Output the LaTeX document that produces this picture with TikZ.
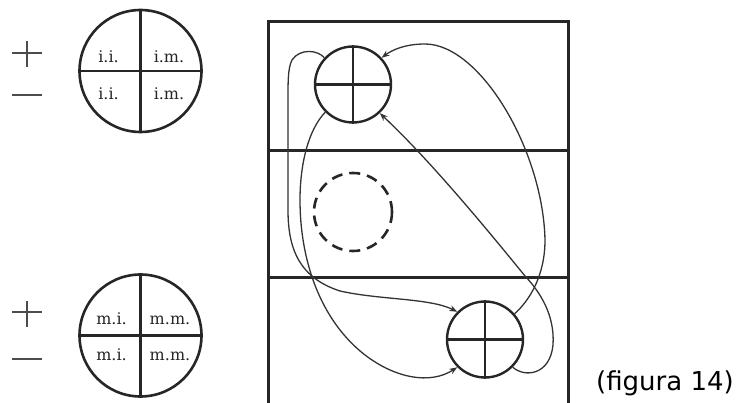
\documentclass[tikz,border=0pt]{standalone}
\usepackage{fontspec}
\usetikzlibrary{arrows.meta}
\newfontfamily\quadfont{DejaVu Serif}
\newfontfamily\capfont{DejaVu Sans}
\tikzset{
  bigcirc/.style={circle, draw=black!85, line width=2.6pt, minimum size=122pt, inner sep=0pt},
  smallcirc/.style={circle, draw=black!85, line width=2.4pt, minimum size=76pt, inner sep=0pt},
  dashcirc/.style={circle, draw=black!85, line width=2.6pt, minimum size=78pt, inner sep=0pt, dash pattern=on 11pt off 7pt},
  quad/.style={line width=2.2pt, draw=black!85},
  qtext/.style={font=\quadfont\fontsize{16}{16}\selectfont, anchor=base, inner sep=0pt, text=black!85},
  sign/.style={line width=1.8pt, draw=black!70},
  boxline/.style={line width=3pt, draw=black!85, line join=miter},
  flow/.style={line width=1.3pt, draw=black!80, -{Stealth[length=8pt,width=6pt]}},
}
\begin{document}
\begin{tikzpicture}[x=1pt,y=-1pt]
\useasboundingbox (0,0) rectangle (739,403);

% left legend circles
\node[bigcirc] (ic) at (140.5,71) {};
\draw[quad] (ic.north) -- (ic.south);
\draw[quad] (ic.west) -- (ic.east);
\node[qtext] (ii1) at (108.5,63) {i.i.};
\node[qtext] (im1) at (169,63) {i.m.};
\node[qtext] (ii2) at (108.5,100) {i.i.};
\node[qtext] (im2) at (169,100) {i.m.};

\node[bigcirc] (mc) at (140.5,335.5) {};
\draw[quad] (mc.north) -- (mc.south);
\draw[quad] (mc.west) -- (mc.east);
\node[qtext] (mi1) at (111.5,324) {m.i.};
\node[qtext] (mm1) at (170,324) {m.m.};
\node[qtext] (mi2) at (111.5,360) {m.i.};
\node[qtext] (mm2) at (170,360) {m.m.};

% plus / minus signs
\draw[sign] (12,53) -- (42,53);
\draw[sign] (27,41) -- (27,67);
\draw[sign] (12,95) -- (42,95);
\draw[sign] (12,312) -- (42,312);
\draw[sign] (27,301) -- (27,327);
\draw[sign] (12,359) -- (42,359);

% field box
\draw[boxline] (268,412) -- (268,22) -- (568,22) -- (568,412);
\draw[boxline] (268,151) -- (568,151);
\draw[boxline] (268,278) -- (568,278);

% circles in the field
\node[smallcirc] (tc) at (353,84.5) {};
\draw[quad] (tc.north) -- (tc.south);
\draw[quad] (tc.west) -- (tc.east);
\node[dashcirc] (dc) at (353,212) {};
\node[smallcirc] (bc) at (485,339.5) {};
\draw[quad] (bc.north) -- (bc.south);
\draw[quad] (bc.west) -- (bc.east);

% connectors
\draw[flow] (tc.137) .. controls (318,50) and (300,48) .. (292,60)
  .. controls (288,68) and (288,80) .. (288,100) -- (288,210)
  .. controls (288,250) and (300,278) .. (340,291)
  .. controls (380,300) and (430,298) .. (bc.135);
\draw[flow] (tc.225) .. controls (308,130) and (300,165) .. (300,200)
  .. controls (300,260) and (320,320) .. (365,355)
  .. controls (395,378) and (430,385) .. (bc.225);
\draw[flow] (bc.41) .. controls (530,300) and (545,275) .. (545,240)
  .. controls (543,150) and (480,44) .. (425,44)
  .. controls (405,44) and (392,50) .. (tc.43);
\draw[flow] (bc.315) .. controls (525,378) and (550,375) .. (553,345)
  .. controls (555,315) and (540,292) .. (525,276)
  .. controls (490,233) and (430,160) .. (tc.313);

% caption
\node[font=\capfont\fontsize{26}{26}\selectfont, anchor=base, inner sep=0pt] (cap) at (665,390) {(figura 14)};
\end{tikzpicture}
\end{document}
